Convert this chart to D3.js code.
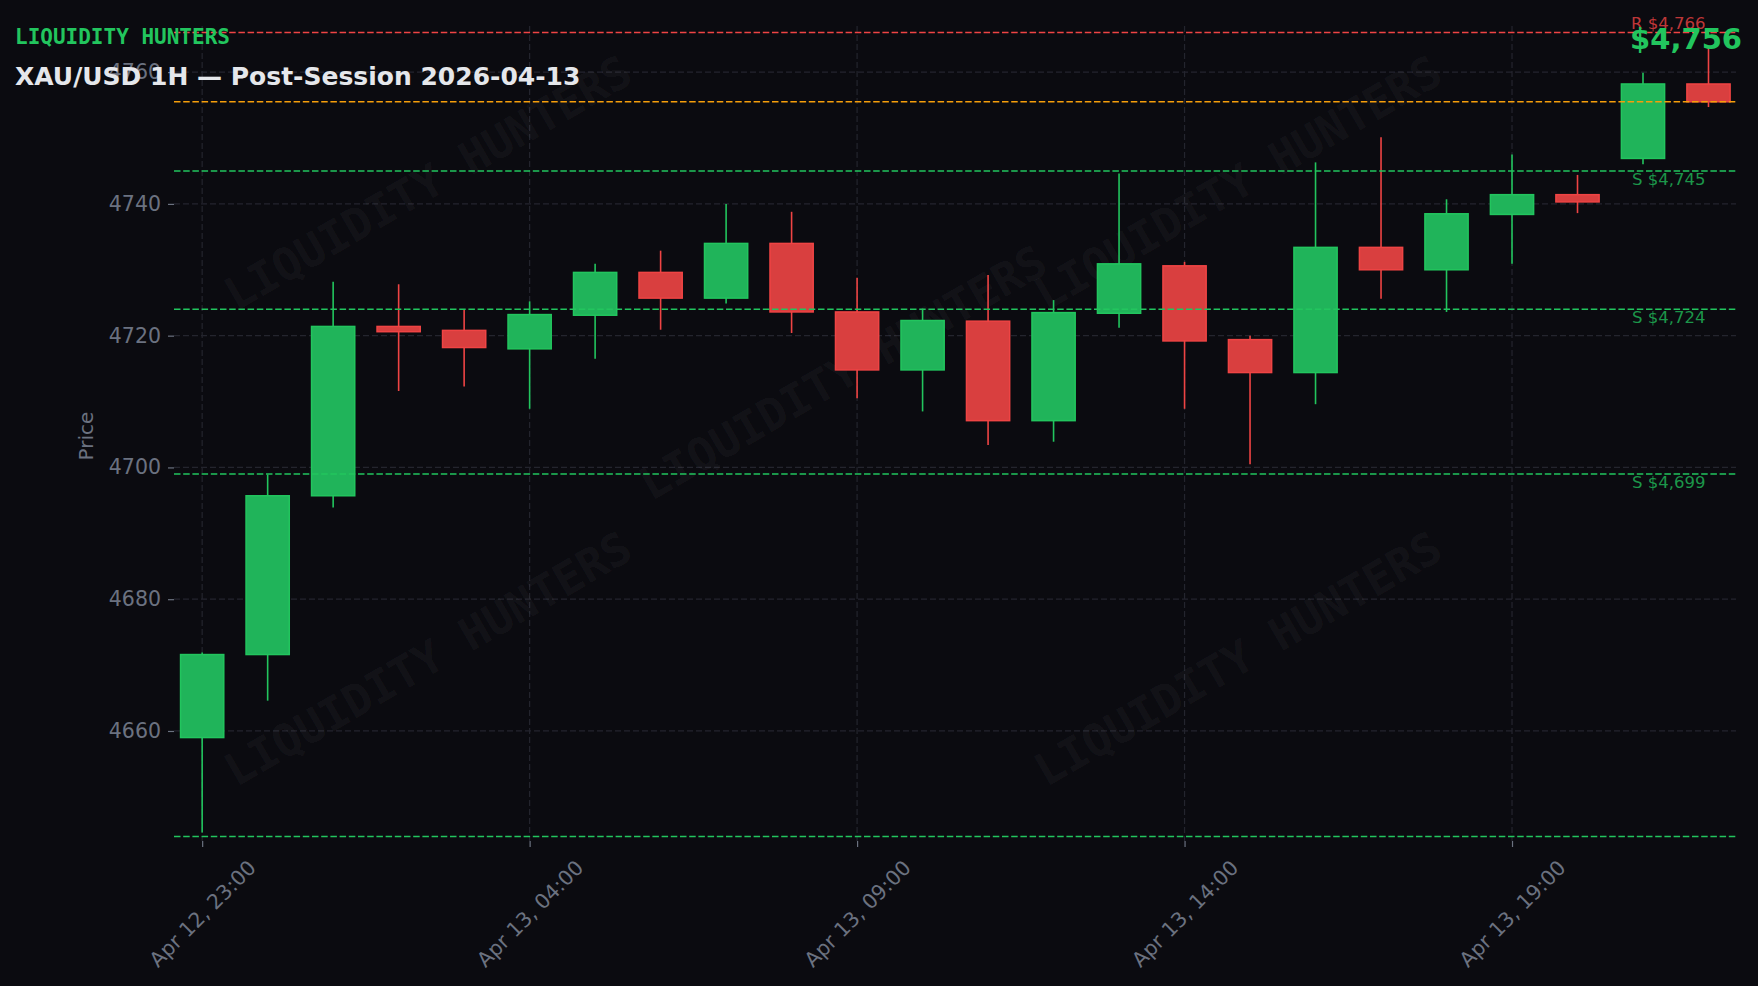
<!DOCTYPE html>
<html><head><meta charset="utf-8">
<script src="https://cdn.jsdelivr.net/npm/d3@7"></script>
<style>html,body{margin:0;padding:0;background:#0b0b10;overflow:hidden}</style>
</head><body><svg id="c" width="1758" height="986"></svg>
<script>
// ---- data ----
const times = ["2026-04-12 23:00","2026-04-13 00:00","2026-04-13 01:00","2026-04-13 02:00","2026-04-13 03:00","2026-04-13 04:00",
  "2026-04-13 05:00","2026-04-13 06:00","2026-04-13 07:00","2026-04-13 08:00","2026-04-13 09:00","2026-04-13 10:00",
  "2026-04-13 11:00","2026-04-13 12:00","2026-04-13 13:00","2026-04-13 14:00","2026-04-13 15:00","2026-04-13 16:00",
  "2026-04-13 17:00","2026-04-13 18:00","2026-04-13 19:00","2026-04-13 20:00","2026-04-13 21:00","2026-04-13 22:00"];
const opens  = [4659.0,4671.6,4695.7,4721.4,4720.8,4718.0,4723.1,4729.6,4725.7,4734.0,4723.6,4714.8,4722.2,4707.1,4723.4,4730.6,4719.4,4714.4,4733.4,4730.0,4738.4,4741.4,4746.9,4758.2];
const highs  = [4671.9,4698.9,4728.2,4727.8,4723.9,4725.2,4730.9,4732.9,4740.0,4738.8,4728.8,4724.1,4729.2,4725.4,4744.6,4731.2,4720.0,4746.3,4750.1,4740.7,4747.5,4744.4,4759.9,4764.0];
const lows   = [4644.6,4664.6,4693.9,4711.6,4712.3,4708.9,4716.5,4720.9,4724.9,4720.4,4710.5,4708.5,4703.4,4703.9,4721.2,4708.9,4700.5,4709.6,4725.6,4723.6,4730.9,4738.6,4746.0,4754.7];
const closes = [4671.6,4695.7,4721.4,4720.6,4718.2,4723.2,4729.6,4725.7,4734.0,4723.6,4714.8,4722.3,4707.1,4723.5,4730.9,4719.2,4714.4,4733.4,4730.0,4738.5,4741.4,4740.3,4758.2,4755.5];
const resistanceLevels = [4766];
const supportLevels = [4745, 4724, 4699];
const sessionLowLevels = [4644];
const currentPrice = 4755.5;
const yTicks = [4660, 4680, 4700, 4720, 4740, 4760];
const xTickTimes = ["2026-04-12 23:00","2026-04-13 04:00","2026-04-13 09:00","2026-04-13 14:00","2026-04-13 19:00"];
const brandText = "LIQUIDITY HUNTERS";
const titleText = "XAU/USD 1H \u2014 Post-Session 2026-04-13";

// ---- setup ----
const svg = d3.select("#c");
const W = 1758, H = 986;
const plot = {left: 174, right: 1736, top: 26, bottom: 841};
const parse = d3.timeParse("%Y-%m-%d %H:%M");
const fmtTick = d3.timeFormat("%b %d, %H:%M");
const candles = times.map((t, i) => ({i, t: parse(t), o: opens[i], h: highs[i], l: lows[i], c: closes[i]}));

const x = d3.scaleLinear().domain([-0.43, candles.length - 1 + 0.42]).range([plot.left, plot.right]);
const y = d3.scaleLinear().domain([4643.3, 4767.0]).range([plot.bottom, plot.top]);
const bodyW = x(0.66) - x(0);
const fmtPrice = d3.format(",.0f");

const UP = "#22c55e", UPFILL = "#20b45a", DN = "#ef4444", DNFILL = "#d93f3f";
const GRID = "#24252e", TXT = "#6b7280";

svg.append("rect").attr("width", W).attr("height", H).attr("fill", "#0b0b10");

// grid
const xTickIdx = xTickTimes.map(s => times.indexOf(s));
const grid = svg.append("g");
grid.selectAll("line.h").data(yTicks).join("line")
  .attr("x1", plot.left).attr("x2", plot.right)
  .attr("y1", d => y(d)).attr("y2", d => y(d))
  .attr("stroke", GRID).attr("stroke-width", 1.2).attr("stroke-dasharray", "6,3");
grid.selectAll("line.v").data(xTickIdx).join("line")
  .attr("x1", d => x(d)).attr("x2", d => x(d))
  .attr("y1", plot.top).attr("y2", plot.bottom)
  .attr("stroke", GRID).attr("stroke-width", 1.2).attr("stroke-dasharray", "6,3");

// watermarks
const wmPos = [[428, 183], [843, 373], [1238, 183], [428, 659], [1238, 659]];
svg.append("g").selectAll("text").data(wmPos).join("text")
  .attr("transform", d => `translate(${d[0]},${d[1]}) rotate(-30)`)
  .attr("text-anchor", "middle").attr("dominant-baseline", "central")
  .attr("font-family", "DejaVu Sans Mono").attr("font-weight", "bold").attr("font-size", 45)
  .attr("fill", "#ffffff").attr("fill-opacity", 0.05)
  .text(brandText);

// y axis
const yAxis = svg.append("g").attr("transform", `translate(${plot.left},0)`)
  .call(d3.axisLeft(y).tickValues(yTicks).tickSize(6).tickPadding(7).tickFormat(d3.format("d")));
yAxis.select(".domain").remove();
yAxis.selectAll(".tick line").attr("stroke", TXT).attr("stroke-width", 1.2);
yAxis.selectAll(".tick text").attr("fill", TXT).attr("font-family", "DejaVu Sans").attr("font-size", 20.5);

svg.append("text").attr("transform", "translate(86,436) rotate(-90)")
  .attr("text-anchor", "middle").attr("dominant-baseline", "central")
  .attr("font-family", "DejaVu Sans").attr("font-size", 20).attr("fill", TXT).text("Price");

// x axis
const xAxis = svg.append("g").attr("transform", `translate(0,${plot.bottom})`)
  .call(d3.axisBottom(x).tickValues(xTickIdx).tickSize(6).tickFormat(i => fmtTick(candles[i].t)));
xAxis.select(".domain").remove();
xAxis.selectAll(".tick line").attr("stroke", TXT).attr("stroke-width", 1.2);
xAxis.selectAll(".tick text")
  .attr("fill", TXT).attr("font-family", "DejaVu Sans").attr("font-size", 20.5)
  .attr("text-anchor", "end").attr("dominant-baseline", "central").attr("y", 0).attr("dy", 0)
  .each(function() {
    const w = this.getComputedTextLength();
    const h = 23;
    this.setAttribute("transform", `translate(${0.354 * w},${15 + 0.354 * h}) rotate(-45)`);
  });

// candles
const cg = svg.append("g");
cg.selectAll("line.wick").data(candles).join("line")
  .attr("x1", d => x(d.i)).attr("x2", d => x(d.i))
  .attr("y1", d => y(d.h)).attr("y2", d => y(d.l))
  .attr("stroke", d => d.c >= d.o ? UP : DN).attr("stroke-width", 1.6);
cg.selectAll("rect.body").data(candles).join("rect")
  .attr("x", d => x(d.i) - bodyW / 2).attr("width", bodyW)
  .attr("y", d => y(Math.max(d.o, d.c)))
  .attr("height", d => Math.max(1, Math.abs(y(d.o) - y(d.c))))
  .attr("fill", d => d.c >= d.o ? UPFILL : DNFILL)
  .attr("stroke", d => d.c >= d.o ? UP : DN).attr("stroke-width", 1.5);

// level lines
const lg = svg.append("g");
function hline(v, color) {
  lg.append("line").attr("x1", plot.left).attr("x2", plot.right)
    .attr("y1", y(v)).attr("y2", y(v))
    .attr("stroke", color).attr("stroke-width", 1.5).attr("stroke-dasharray", "6.5,2.7");
}
resistanceLevels.forEach(v => hline(v, DN));
hline(currentPrice, "#f59e0b");
supportLevels.forEach(v => hline(v, UP));
sessionLowLevels.forEach(v => hline(v, UP));

const labelX = x(candles.length - 1) - 3;
resistanceLevels.forEach(v => {
  lg.append("text").attr("x", labelX).attr("y", y(v) - 4).attr("text-anchor", "end")
    .attr("font-family", "DejaVu Sans").attr("font-size", 16.5).attr("fill", DN).attr("fill-opacity", 0.8)
    .text("R $" + fmtPrice(v));
});
supportLevels.forEach(v => {
  lg.append("text").attr("x", labelX).attr("y", y(v) + 14).attr("text-anchor", "end")
    .attr("font-family", "DejaVu Sans").attr("font-size", 16.5).attr("fill", UP).attr("fill-opacity", 0.75)
    .text("S $" + fmtPrice(v));
});

// header texts
svg.append("text").attr("x", 15).attr("y", 44)
  .attr("font-family", "DejaVu Sans Mono").attr("font-weight", "bold").attr("font-size", 21)
  .attr("fill", UP).text(brandText);
svg.append("text").attr("x", 15).attr("y", 85)
  .attr("font-family", "DejaVu Sans").attr("font-weight", "bold").attr("font-size", 25)
  .attr("fill", "#e5e7eb").text(titleText);
svg.append("text").attr("x", 1742).attr("y", 49).attr("text-anchor", "end")
  .attr("font-family", "DejaVu Sans").attr("font-weight", "bold").attr("font-size", 29)
  .attr("fill", UP).text("$" + fmtPrice(currentPrice));
</script>
</body></html>
